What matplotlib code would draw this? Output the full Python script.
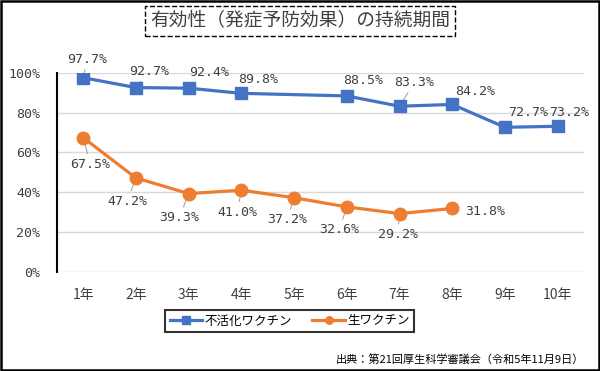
import numpy as np
import matplotlib.pyplot as plt
from matplotlib.patches import Rectangle

years = ['1年', '2年', '3年', '4年', '5年', '6年', '7年', '8年', '9年', '10年']
inactivated = [97.7, 92.7, 92.4, 89.8, np.nan, 88.5, 83.3, 84.2, 72.7, 73.2]
live = [67.5, 47.2, 39.3, 41.0, 37.2, 32.6, 29.2, 31.8, np.nan, np.nan]
yticks = [0, 20, 40, 60, 80, 100]

# label offsets (pixels) and whether a leader line shows
blue_off = [(4.5, 18.6), (13.5, 16.5), (21, 16), (17, 14), None, (16.5, 15),
            (15, 24), (23, 13), (23, 15), (11.5, 14)]
blue_lead = [1, 1, 0, 0, 0, 0, 1, 0, 0, 0]
orange_off = [(7.5, -26.6), (-8.5, -23.5), (-9, -24), (-4, -22), (-7, -22),
              (-7.5, -23), (-2, -21), (33, -3), None, None]
orange_lead = [1, 1, 1, 1, 1, 1, 1, 0, 0, 0]

BLUE = '#4472C4'
ORANGE = '#ED7D31'
mono = ['DejaVu Sans Mono', 'Noto Sans CJK JP']
cjk = ['Noto Sans CJK JP', 'DejaVu Sans']

fig = plt.figure(figsize=(6, 3.71), dpi=100)
ax = fig.add_axes([0.0945, 0.268, 0.879, 0.535])

x = np.arange(1, len(years) + 1)
inact = np.array(inactivated)
lv = np.array(live)
mb = ~np.isnan(inact)
mo = ~np.isnan(lv)
ax.plot(x[mb], inact[mb], color=BLUE, lw=2.3, marker='s', ms=9, label='不活化ワクチン', zorder=3)
ax.plot(x[mo], lv[mo], color=ORANGE, lw=2.3, marker='o', ms=9, label='生ワクチン', zorder=3)


def put_labels(vals, offs, leads):
    for xi, v, off, ld in zip(x, vals, offs, leads):
        if np.isnan(v):
            continue
        ap = dict(arrowstyle='-', color='#A6A6A6', lw=0.8, shrinkA=1, shrinkB=0) if ld else None
        ax.annotate(f'{v:.1f}%', xy=(xi, v), xytext=off, textcoords='offset pixels',
                    ha='center', va='center', fontsize=9.5, family=mono, color='#404040',
                    arrowprops=ap, zorder=1)


put_labels(inact, blue_off, blue_lead)
put_labels(lv, orange_off, orange_lead)

ax.set_xlim(0.5, len(years) + 0.5)
ax.set_ylim(0, 100)
ax.set_xticks(x)
ax.set_xticklabels(years, family=cjk, fontsize=10, color='#404040')
ax.set_yticks(yticks)
ax.set_yticklabels([f'{t}%' for t in yticks], family=mono, fontsize=9.5, color='#404040')
ax.tick_params(axis='both', length=0)
ax.tick_params(axis='y', pad=12)
ax.tick_params(axis='x', pad=12)
ax.grid(axis='y', color='#D9D9D9', lw=1)
ax.set_axisbelow(True)
for s in ['top', 'right', 'bottom']:
    ax.spines[s].set_visible(False)
ax.spines['left'].set_color('black')
ax.spines['left'].set_linewidth(1.5)

leg = fig.legend(loc='center', bbox_to_anchor=(0.483, 0.135), ncol=2, frameon=True,
                 fancybox=False, edgecolor='black', handlelength=2.6, columnspacing=1.6,
                 handletextpad=0.2, borderpad=0.35, markerscale=0.6,
                 prop={'family': cjk, 'size': 9})
leg.get_frame().set_linewidth(1.5)

fig.text(0.5, 0.943, '有効性（発症予防効果）の持続期間', ha='center', va='center',
         family=cjk, fontsize=13.5, color='#404040',
         bbox=dict(boxstyle='square,pad=0.25', fc='white', ec='black', ls='--', lw=1))

fig.text(0.973, 0.032, '出典：第21回厚生科学審議会（令和5年11月9日）', ha='right', va='center',
         family=cjk, fontsize=8, color='black')

fig.patches.append(Rectangle((0.002, 0.003), 0.996, 0.994, transform=fig.transFigure,
                             fill=False, ec='black', lw=1.8))

fig.savefig('out.png', dpi=100)
